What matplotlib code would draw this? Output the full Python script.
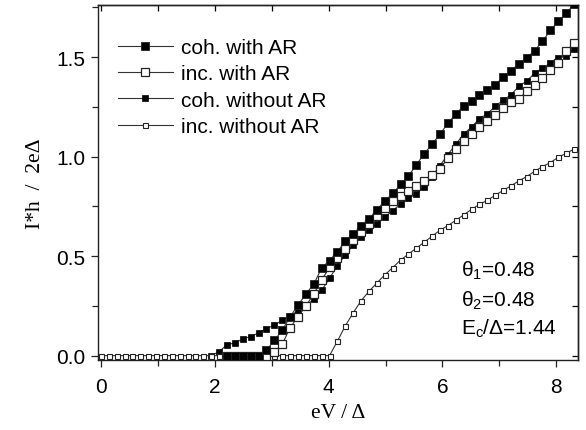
import matplotlib
matplotlib.use("Agg")
import matplotlib.pyplot as plt
from matplotlib.ticker import MultipleLocator, FormatStrFormatter

plt.rcParams['font.family'] = ['Liberation Sans', 'DejaVu Sans']
plt.rcParams['mathtext.fontset'] = 'custom'
plt.rcParams['mathtext.rm'] = 'Liberation Sans'
plt.rcParams['mathtext.it'] = 'Liberation Sans'

# sampling grid (eV/Delta)
x = [0.000, 0.139, 0.277, 0.416, 0.554, 0.693, 0.831, 0.970, 1.108, 1.247,
     1.385, 1.524, 1.662, 1.801, 1.939, 2.078, 2.216, 2.355, 2.493, 2.632,
     2.770, 2.909, 3.047, 3.186, 3.324, 3.463, 3.601, 3.740, 3.878, 4.017,
     4.155, 4.294, 4.432, 4.571, 4.709, 4.848, 4.986, 5.125, 5.263, 5.402,
     5.540, 5.679, 5.817, 5.956, 6.094, 6.233, 6.371, 6.510, 6.648, 6.787,
     6.925, 7.064, 7.202, 7.341, 7.479, 7.618, 7.756, 7.895, 8.033, 8.172,
     8.310]

# coh. with AR (starts at index 16)
coh_ar = [0, 0, 0, 0, 0, 0.028, 0.076, 0.128, 0.195, 0.254,
          0.310, 0.360, 0.440, 0.478, 0.523, 0.574, 0.610, 0.652, 0.687, 0.733,
          0.777, 0.815, 0.860, 0.903, 0.958, 1.015, 1.062, 1.113, 1.167, 1.214,
          1.255, 1.280, 1.311, 1.335, 1.360, 1.400, 1.432, 1.466, 1.497, 1.533,
          1.580, 1.634, 1.680, 1.720, 1.766]
# inc. with AR (starts at index 16)
inc_ar = [0, 0, 0, 0, 0, 0, 0.020, 0.057, 0.141, 0.195,
          0.250, 0.310, 0.380, 0.444, 0.490, 0.537, 0.580, 0.620, 0.660, 0.700,
          0.742, 0.775, 0.800, 0.826, 0.853, 0.880, 0.907, 0.936, 0.995, 1.040,
          1.079, 1.113, 1.150, 1.180, 1.210, 1.244, 1.273, 1.290, 1.328, 1.360,
          1.396, 1.436, 1.470, 1.530, 1.570]
# coh. without AR (starts at index 14)
coh_noar = [0, 0.020, 0.055, 0.064, 0.084, 0.096,
            0.114, 0.136, 0.153, 0.177, 0.200, 0.225, 0.250, 0.284, 0.328, 0.389,
            0.452, 0.508, 0.555, 0.598, 0.633, 0.663, 0.695, 0.729, 0.760, 0.790,
            0.813, 0.848, 0.900, 0.955, 1.010, 1.062, 1.113, 1.149, 1.190, 1.215,
            1.253, 1.283, 1.311, 1.353, 1.380, 1.419, 1.444, 1.470, 1.497, 1.505,
            1.540]
# inc. without AR (all indices)
inc_noar = [0, 0, 0, 0, 0, 0, 0, 0, 0, 0,
            0, 0, 0, 0, 0, 0, 0, 0, 0, 0,
            0, 0, 0, 0, 0, 0, 0, 0, 0, 0,
            0.073, 0.150, 0.215, 0.276, 0.323, 0.365, 0.406, 0.442, 0.480, 0.510,
            0.540, 0.570, 0.600, 0.630, 0.653, 0.680, 0.707, 0.735, 0.760, 0.780,
            0.806, 0.830, 0.853, 0.878, 0.900, 0.926, 0.950, 0.970, 0.997, 1.016,
            1.038]

labels = ["coh. with AR", "inc. with AR", "coh. without AR", "inc. without AR"]
xticks = [0, 2, 4, 6, 8]
yticks = [0.0, 0.5, 1.0, 1.5]

fig = plt.figure(figsize=(5.86, 4.31), dpi=100)
ax = fig.add_axes([98/586, 1-361/431, 480/586, 355/431])

lw = 0.8
h_c, = ax.plot(x[14:], coh_noar, '-', color='#333333', lw=lw, marker='s', ms=4.0,
               mfc='black', mec='black', mew=0.5, zorder=2)
h_d, = ax.plot(x, inc_noar, '-', color='#333333', lw=lw, marker='s', ms=3.6,
               mfc='white', mec='#222222', mew=0.8, zorder=3)
h_b, = ax.plot(x[16:], inc_ar, '-', color='#333333', lw=lw, marker='s', ms=6.2,
               mfc='white', mec='#222222', mew=0.9, zorder=4)
h_a, = ax.plot(x[16:], coh_ar, '-', color='#333333', lw=lw, marker='s', ms=6.2,
               mfc='black', mec='#222222', mew=0.6, zorder=5)

ax.set_xlim(-0.05, 8.38)
ax.set_ylim(-0.022, 1.762)
ax.xaxis.set_minor_locator(MultipleLocator(1))
ax.yaxis.set_minor_locator(MultipleLocator(0.25))
ax.set_xticks(xticks)
ax.set_yticks(yticks)
ax.yaxis.set_major_formatter(FormatStrFormatter('%.1f'))

ax.tick_params(which='both', direction='out', top=False, right=False,
               labelsize=15, width=0.9, color='#222222')
ax.tick_params(axis='x', which='major', length=5, pad=7)
ax.tick_params(axis='x', which='minor', length=4)
ax.tick_params(axis='y', which='major', length=5, pad=4)
ax.tick_params(axis='y', which='minor', length=4)

# inward ticks on top and right
sec_t = ax.secondary_xaxis('top')
sec_t.xaxis.set_major_locator(MultipleLocator(1))
sec_t.tick_params(direction='in', length=4, labeltop=False, width=0.9)
sec_r = ax.secondary_yaxis('right')
sec_r.yaxis.set_major_locator(MultipleLocator(0.25))
sec_r.tick_params(direction='in', length=4, labelright=False, width=0.9)
for s in list(ax.spines.values()):
    s.set_linewidth(1.0)
    s.set_color('#222222')
for sx in (sec_t, sec_r):
    for s in sx.spines.values():
        s.set_linewidth(1.0)
        s.set_color('#222222')

ax.set_xlabel("eV / Δ", family=['Liberation Serif', 'DejaVu Serif'], fontsize=15.5, labelpad=5)
ax.set_ylabel("I*h  /  2eΔ", family=['Liberation Serif', 'DejaVu Serif'], fontsize=15.5, labelpad=8)

leg = ax.legend([h_a, h_b, h_c, h_d], labels, loc='upper left', frameon=False,
                fontsize=15, handlelength=2.6, handletextpad=0.4,
                labelspacing=0.35, borderaxespad=0.0, bbox_to_anchor=(0.025, 0.93))

ax.text(6.32, 0.40, r"$\mathrm{\theta_1}$=0.48", fontsize=15)
ax.text(6.32, 0.251, r"$\mathrm{\theta_2}$=0.48", fontsize=15)
ax.text(6.32, 0.110, r"$\mathrm{E_c}$/Δ=1.44", fontsize=15)

fig.savefig("out.png", dpi=100)
